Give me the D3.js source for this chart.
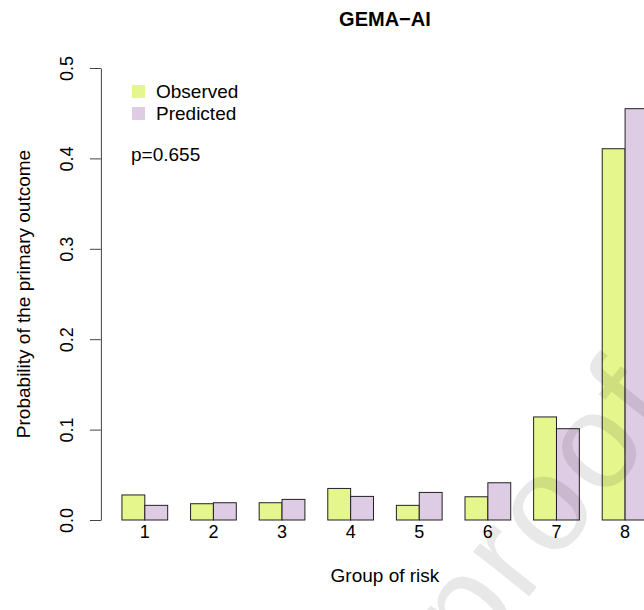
<!DOCTYPE html>
<html>
<head>
<meta charset="utf-8">
<script src="https://cdn.jsdelivr.net/npm/d3@7"></script>
<style>
  body { margin: 0; background: #fff; }
  svg { display: block; font-family: "Liberation Sans", Arial, Helvetica, sans-serif; }
</style>
</head>
<body>
<div id="chart"></div>
<script>
// --- data ---
const groups = ['1', '2', '3', '4', '5', '6', '7', '8'];
const series = ['Observed', 'Predicted'];
const observed = [0.0277, 0.0180, 0.0191, 0.0349, 0.0162, 0.0257, 0.1140, 0.4107];
const predicted = [0.0162, 0.0191, 0.0228, 0.0261, 0.0305, 0.0412, 0.1010, 0.4550];
const yTicks = [0, 0.1, 0.2, 0.3, 0.4, 0.5];
const pLabel = 'p=0.655';

const width = 644, height = 610;
const colors = { Observed: '#E4F68C', Predicted: '#DECBE4' };
const fontSize = '19px';

const svg = d3.select('#chart').append('svg')
    .attr('width', width)
    .attr('height', height);

// R barplot units: bars occupy [1, 24], plot region is [0.08, 24.92]
const xUnit = d3.scaleLinear().domain([0.08, 24.92]).range([100.9, 669]);
const x = d3.scaleBand()
    .domain(groups)
    .range([xUnit(1), xUnit(24)])
    .paddingInner(1 / 3)
    .paddingOuter(0);
const xInner = d3.scaleBand()
    .domain(series)
    .range([0, x.bandwidth()]);

const y = d3.scaleLinear().domain([0, 0.5]).range([520, 68]);

const rows = groups.map((g, i) => ({ group: g, values: [
    { key: 'Observed', value: observed[i] },
    { key: 'Predicted', value: predicted[i] }
] }));

// bars
const gBars = svg.append('g');
gBars.selectAll('g.grp')
    .data(rows)
    .enter()
    .append('g')
    .attr('class', 'grp')
    .attr('transform', d => `translate(${x(d.group)},0)`)
    .selectAll('rect')
    .data(d => d.values)
    .enter()
    .append('rect')
    .attr('x', d => xInner(d.key))
    .attr('y', d => y(d.value))
    .attr('width', xInner.bandwidth())
    .attr('height', d => y(0) - y(d.value))
    .attr('fill', d => colors[d.key])
    .attr('stroke', '#222')
    .attr('stroke-width', 1);

// y axis
const yAxis = svg.append('g')
    .attr('transform', `translate(${xUnit(0.08)},0)`)
    .call(d3.axisLeft(y).tickValues(yTicks).tickFormat(d3.format('.1f')).tickSize(11).tickSizeOuter(0));
yAxis.select('.domain').attr('stroke', '#444');
yAxis.selectAll('.tick line').attr('stroke', '#444');
yAxis.selectAll('.tick text')
    .attr('transform', 'rotate(-90)')
    .attr('x', 0)
    .attr('y', -34)
    .attr('dy', '0.35em')
    .style('text-anchor', 'middle')
    .style('font-size', '18px')
    .style('font-family', '"Liberation Sans", Arial, sans-serif')
    .attr('fill', '#000');

// x category labels (no axis line in R barplot)
const xAxis = svg.append('g')
    .attr('transform', `translate(0,${y(0)})`)
    .call(d3.axisBottom(x).tickSize(0));
xAxis.select('.domain').remove();
xAxis.selectAll('.tick text')
    .attr('y', 18)
    .attr('dy', 0)
    .style('font-size', '18px')
    .style('font-family', '"Liberation Sans", Arial, sans-serif')
    .attr('fill', '#000');

const cx = (xUnit(0.08) + xUnit(24.92)) / 2;

// title
svg.append('text')
    .attr('x', cx)
    .attr('y', 26)
    .style('text-anchor', 'middle')
    .style('font-weight', 'bold')
    .style('font-size', '20px')
    .text('GEMA\u2212AI');

// axis titles
svg.append('text')
    .attr('x', cx)
    .attr('y', 582)
    .style('text-anchor', 'middle')
    .style('font-size', fontSize)
    .text('Group of risk');

svg.append('text')
    .attr('transform', `translate(30,${(y(0) + y(0.5)) / 2}) rotate(-90)`)
    .style('text-anchor', 'middle')
    .style('font-size', fontSize)
    .text('Probability of the primary outcome');

// legend
const legend = svg.append('g').attr('transform', 'translate(132,85)');
series.forEach((s, i) => {
    const row = legend.append('g').attr('transform', `translate(0,${i * 22})`);
    row.append('rect')
        .attr('width', 13)
        .attr('height', 13)
        .attr('fill', colors[s]);
    row.append('text')
        .attr('x', 24)
        .attr('y', 13)
        .style('font-size', fontSize)
        .text(s);
});

svg.append('text')
    .attr('x', 131)
    .attr('y', 161)
    .style('font-size', fontSize)
    .text(pLabel);

// watermark
svg.append('text')
    .attr('transform', 'translate(474,666) rotate(-51.5)')
    .style('font-size', '136px')
    .style('letter-spacing', '4px')
    .attr('fill', '#000')
    .attr('fill-opacity', 0.09)
    .text('proof');
</script>
</body>
</html>
